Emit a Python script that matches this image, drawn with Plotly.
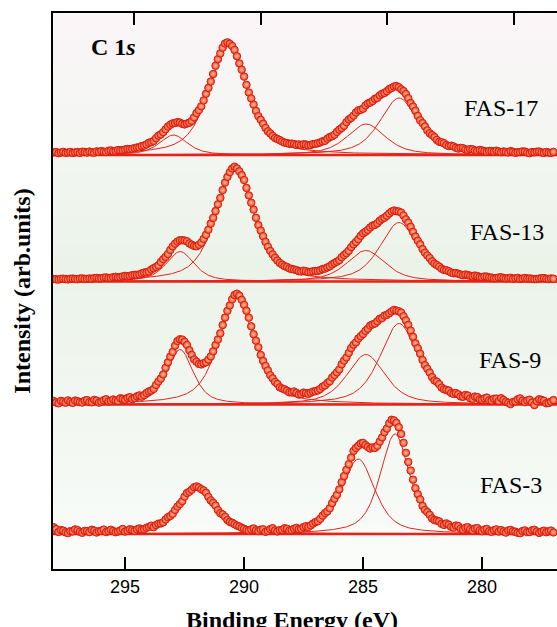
import numpy as np
import plotly.graph_objects as go

# ---------------- data ----------------
# scan grid of the spectra (binding energy, eV), 0.1 eV step from 298.0 down to 277.0
energy = np.round(np.arange(298.0, 276.95, -0.1), 1)

samples = ["FAS-17", "FAS-13", "FAS-9", "FAS-3"]
offsets = [414, 287.5, 164.5, 35]          # vertical stacking offsets (arb. units)

fas17 = [2.6, 2.9, 1.8, 2.4, 3.1, 2.2, 2.4, 3.0, 2.0, 2.6,
         2.9, 2.1, 3.3, 3.0, 2.5, 3.4, 2.7, 2.3, 3.6, 3.1,
         3.9, 3.3, 3.0, 4.2, 4.6, 3.7, 4.1, 4.9, 4.7, 4.8,
         5.5, 6.0, 5.9, 6.2, 6.9, 7.5, 7.6, 8.9, 9.4, 10.6,
         12.2, 12.9, 14.1, 16.8, 19.3, 20.6, 22.8, 25.7, 28.4, 30.3,
         31.6, 32.0, 32.9, 32.4, 31.2, 30.6, 31.4, 32.3, 34.1, 37.6,
         41.9, 44.9, 48.7, 54.6, 61.2, 67.1, 73.5, 81.0, 89.3, 95.8,
         101.6, 107.3, 111.5, 112.6, 111.2, 108.9, 105.1, 98.8, 91.6, 85.3,
         78.4, 70.2, 62.5, 56.6, 50.4, 44.1, 38.8, 35.2, 31.3, 27.1,
         23.7, 21.6, 19.1, 17.0, 16.0, 14.9, 13.5, 12.4, 12.0, 11.2,
         11.4, 10.9, 10.1, 10.6, 9.9, 10.8, 10.4, 9.7, 10.0, 10.9,
         11.2, 11.7, 12.6, 13.7, 14.2, 16.3, 17.9, 18.8, 20.3, 23.1,
         25.3, 27.0, 29.2, 32.8, 35.6, 37.1, 39.4, 42.5, 44.6, 45.2,
         46.3, 49.5, 51.6, 52.4, 54.0, 56.2, 57.1, 59.6, 61.2, 62.1,
         63.8, 65.9, 67.0, 68.4, 68.9, 67.8, 65.7, 63.9, 61.0, 56.8,
         51.9, 48.4, 44.3, 39.1, 34.8, 32.0, 28.6, 24.6, 21.7, 19.9,
         17.9, 15.1, 13.2, 12.7, 11.8, 9.9, 8.9, 9.3, 8.6, 7.2,
         6.4, 7.1, 6.8, 5.6, 5.0, 5.9, 5.7, 4.6, 4.1, 5.0,
         4.6, 3.8, 3.2, 4.0, 3.9, 3.4, 4.3, 3.6, 2.8, 3.5,
         3.1, 2.6, 3.9, 3.2, 2.2, 2.8, 2.9, 3.6, 3.4, 2.5,
         1.8, 2.9, 2.7, 3.3, 3.5, 2.6, 2.2, 3.0, 2.4, 2.1,
         3.1]

fas13 = [2.5, 2.2, 1.9, 2.6, 2.8, 2.4, 2.1, 2.7, 2.9, 2.5,
         2.3, 2.9, 3.1, 2.6, 2.6, 3.0, 2.7, 3.3, 3.6, 3.1,
         3.2, 3.8, 4.1, 3.5, 3.6, 4.3, 4.7, 4.2, 4.4, 5.1,
         5.6, 5.2, 5.5, 6.3, 6.7, 6.6, 7.0, 8.1, 8.9, 9.2,
         10.0, 11.9, 13.3, 14.6, 16.2, 19.5, 22.3, 24.6, 27.5, 31.6,
         35.1, 37.8, 39.9, 41.2, 41.3, 41.0, 40.2, 38.1, 36.8, 35.6,
         35.2, 36.7, 38.9, 42.6, 46.7, 51.8, 57.9, 63.6, 70.4, 77.2,
         83.6, 91.4, 98.9, 104.6, 109.3, 113.0, 114.8, 113.1, 110.2, 106.4,
         101.5, 93.6, 86.1, 78.8, 71.9, 63.7, 56.4, 50.9, 45.3, 39.6,
         34.8, 30.6, 27.1, 23.8, 21.0, 18.6, 16.9, 15.3, 14.6, 13.1,
         12.5, 12.0, 11.4, 10.3, 10.0, 10.8, 10.3, 9.4, 9.6, 10.2,
         10.5, 10.6, 11.3, 12.4, 12.9, 14.1, 15.2, 17.1, 18.6, 19.8,
         21.3, 24.2, 26.5, 28.4, 30.8, 34.3, 37.2, 39.5, 42.3, 45.6,
         48.2, 49.7, 51.6, 54.1, 55.9, 56.6, 58.2, 60.7, 62.6, 63.8,
         65.7, 68.1, 69.9, 71.0, 70.3, 70.0, 68.9, 66.1, 62.2, 58.9,
         54.7, 49.6, 44.9, 40.8, 37.2, 32.4, 28.8, 26.0, 23.5, 20.3,
         17.9, 16.5, 14.9, 12.8, 11.6, 11.2, 10.3, 9.0, 8.2, 8.4,
         7.8, 6.9, 6.4, 7.0, 6.5, 5.7, 5.2, 5.9, 5.4, 4.6,
         4.3, 5.0, 4.9, 4.1, 3.9, 3.2, 3.4, 4.0, 4.2, 3.5,
         3.0, 3.3, 3.7, 2.8, 3.2, 3.6, 2.6, 2.9, 3.5, 3.0,
         3.1, 2.7, 2.3, 2.5, 2.9, 3.3, 3.4, 2.7, 2.5, 3.0,
         2.8]

fas9 = [3.5, 2.0, 1.2, 3.6, 2.9, 1.8, 4.1, 2.7, 1.6, 3.9,
        3.3, 2.4, 2.0, 3.8, 4.4, 2.5, 2.2, 4.6, 3.9, 1.9,
        2.8, 4.2, 5.3, 3.1, 3.6, 5.0, 4.1, 3.5, 6.2, 5.6,
        4.8, 6.5, 7.3, 5.4, 6.5, 8.2, 9.1, 7.8, 9.4, 11.6,
        13.1, 13.9, 15.6, 19.6, 23.0, 25.9, 30.1, 36.7, 42.2, 47.9,
        52.6, 58.8, 63.4, 65.2, 64.9, 62.7, 59.5, 54.2, 49.6, 45.1,
        42.8, 40.6, 40.1, 41.3, 42.2, 44.9, 48.1, 53.2, 59.6, 65.0,
        71.2, 79.5, 86.9, 93.7, 99.1, 105.2, 109.5, 110.8, 108.9, 104.7,
        99.6, 93.8, 86.8, 78.2, 70.3, 63.8, 57.2, 49.6, 43.6, 38.5,
        34.1, 29.3, 26.2, 22.6, 20.5, 17.2, 16.1, 15.2, 13.8, 12.2,
        12.1, 13.0, 11.6, 10.0, 10.3, 11.9, 11.4, 10.6, 11.8, 12.9,
        13.3, 14.1, 15.6, 17.8, 19.1, 21.6, 23.2, 26.9, 29.4, 32.1,
        35.1, 40.2, 43.9, 47.0, 51.6, 56.4, 59.8, 62.1, 65.9, 68.3,
        70.5, 73.6, 75.8, 78.9, 80.1, 81.0, 83.2, 85.7, 86.4, 88.9,
        89.6, 91.3, 93.1, 94.6, 93.9, 93.2, 92.0, 88.3, 84.1, 79.6,
        73.9, 67.7, 61.2, 56.3, 50.8, 44.6, 39.3, 35.8, 32.0, 27.4,
        24.1, 22.8, 20.3, 16.9, 15.2, 14.7, 13.9, 11.5, 10.6, 11.4,
        10.2, 8.1, 7.7, 9.6, 8.9, 6.2, 5.6, 7.9, 7.4, 5.1,
        4.8, 6.1, 6.9, 4.2, 3.8, 5.7, 5.9, 3.4, 6.3, 4.6,
        2.9, 1.7, 0.4, 2.6, 3.1, 5.2, 6.1, 3.9, 2.4, 4.1,
        4.8, 1.9, -0.6, 3.3, 5.2, 4.6, 3.7, 1.2, 1.5, 2.8,
        4.4]

fas3 = [6.8, 4.9, 2.1, 3.9, 3.4, 1.7, 0.9, 2.8, 2.6, 4.6,
        3.8, 2.2, 1.2, 3.1, 2.9, 1.9, 4.3, 3.4, 1.5, 2.7,
        3.1, 4.4, 2.0, 2.9, 4.2, 3.0, 1.8, 2.5, 3.6, 5.0,
        2.4, 3.3, 4.8, 4.0, 3.1, 4.6, 5.6, 4.4, 4.9, 6.2,
        7.1, 8.3, 6.8, 8.9, 10.3, 10.6, 11.7, 14.5, 16.8, 18.1,
        20.2, 24.1, 27.4, 29.9, 32.8, 37.4, 40.9, 42.3, 44.3, 46.8,
        47.6, 46.5, 44.8, 43.6, 41.3, 37.1, 33.6, 31.2, 28.4, 23.9,
        20.8, 19.6, 17.2, 13.9, 12.1, 11.2, 9.8, 8.4, 7.6, 6.2,
        5.2, 4.1, 3.4, 4.6, 5.6, 3.7, 2.9, 4.3, 4.7, 2.2,
        3.1, 4.9, 5.8, 3.6, 2.6, 3.9, 4.2, 5.7, 5.3, 3.4,
        3.9, 5.2, 6.1, 4.8, 5.2, 6.9, 7.8, 7.1, 8.6, 10.4,
        11.9, 12.8, 15.2, 18.4, 20.9, 22.6, 25.7, 30.9, 35.3, 39.1,
        44.6, 51.8, 57.9, 64.2, 69.8, 76.4, 83.1, 86.0, 88.2, 90.6,
        91.1, 88.9, 87.1, 85.4, 86.7, 86.1, 88.2, 92.5, 96.6, 101.8,
        105.4, 110.6, 114.2, 113.6, 111.2, 106.8, 100.1, 91.2, 81.2, 72.0,
        63.5, 54.3, 45.8, 39.7, 34.6, 28.1, 24.1, 21.9, 19.2, 15.6,
        13.9, 13.4, 12.6, 10.2, 9.1, 10.6, 9.3, 7.2, 6.4, 8.5,
        7.9, 5.4, 4.3, 6.2, 6.8, 4.7, 3.5, 5.4, 5.9, 3.6,
        2.8, 4.4, 5.1, 2.9, 2.2, 3.8, 4.6, 2.5, 3.9, 2.6,
        1.4, 3.5, 4.1, 2.7, 2.3, 1.2, 0.8, 2.9, 3.6, 1.9,
        2.0, 3.7, 4.2, 2.5, 1.1, 2.4, 3.3, 1.8, 2.7, 3.4,
        1.6]

# fitted components (pseudo-Voigt): centre (eV), height, FWHM (eV)
centers_17 = [292.97, 290.67, 284.87, 283.49]
heights_17 = [20, 110, 31, 57]
fwhm_17 = [1.4, 1.9, 1.9, 1.9]

centers_13 = [292.69, 290.38, 284.88, 283.49]
heights_13 = [30, 112, 31, 59]
fwhm_13 = [1.4, 1.9, 1.9, 1.9]

centers_9 = [292.69, 290.31, 284.88, 283.49]
heights_9 = [55, 106, 50, 81]
fwhm_9 = [1.3, 1.8, 1.9, 1.9]

centers_3 = [291.99, 285.20, 283.66]
heights_3 = [46, 75, 100]
fwhm_3 = [1.8, 1.64, 1.47]

lorentz_fraction = 0.6

tick_vals = [295, 290, 285, 280]
title_text = "C 1<i>s</i>"
x_title = "Binding Energy (eV)"
y_title = "Intensity (arb.units)"

spectra = [fas17, fas13, fas9, fas3]
fits = [(centers_17, heights_17, fwhm_17),
        (centers_13, heights_13, fwhm_13),
        (centers_9, heights_9, fwhm_9),
        (centers_3, heights_3, fwhm_3)]
assert all(len(s) == len(energy) for s in spectra)


def pseudo_voigt(e, c, h, w, eta):
    d = e - c
    g = np.exp(-4 * np.log(2) * d ** 2 / w ** 2)
    lo = 1.0 / (1.0 + 4 * d ** 2 / w ** 2)
    return h * ((1 - eta) * g + eta * lo)


# ---------------- styling ----------------
RED = "#e8221a"
SERIF = "Liberation Serif, Times New Roman, serif"
SANS = "Liberation Sans, Arial, sans-serif"

X_RANGE = [298.03, 276.85]
X2_RANGE = [298.20, 278.30]
Y_RANGE = [0, 556]

fig = go.Figure()

# background gradient (pinkish top -> light green -> near white bottom)
stops = [(0.0, (251, 245, 248)), (0.22, (244, 246, 242)), (0.45, (235, 243, 233)),
         (0.72, (242, 247, 241)), (1.0, (250, 252, 250))]
n_strips = 60


def col_at(t):
    for (t0, c0), (t1, c1) in zip(stops[:-1], stops[1:]):
        if t0 <= t <= t1:
            f = (t - t0) / (t1 - t0)
            return "rgb(%d,%d,%d)" % tuple(round(a + (b - a) * f) for a, b in zip(c0, c1))
    return "rgb(%d,%d,%d)" % stops[-1][1]


shapes = []
for i in range(n_strips):
    top = 1 - i / n_strips
    bot = 1 - (i + 1) / n_strips
    shapes.append(dict(type="rect", xref="paper", yref="paper", x0=0, x1=1,
                       y0=bot - 0.001, y1=top, fillcolor=col_at((i + 0.5) / n_strips),
                       line=dict(width=0), layer="below"))

fine_e = np.linspace(X_RANGE[0], X_RANGE[1], 900)

for name, off, data, (cs, hs, ws) in zip(samples, offsets, spectra, fits):
    # baseline
    fig.add_trace(go.Scatter(x=[X_RANGE[0], X_RANGE[1]], y=[off, off], mode="lines",
                             line=dict(color=RED, width=2.6), hoverinfo="skip",
                             showlegend=False))
    # fitted components
    for c, h, w in zip(cs, hs, ws):
        fig.add_trace(go.Scatter(x=fine_e, y=off + pseudo_voigt(fine_e, c, h, w, lorentz_fraction),
                                 mode="lines", line=dict(color=RED, width=1),
                                 hoverinfo="skip", showlegend=False))

for name, off, data in zip(samples, offsets, spectra):
    fig.add_trace(go.Scatter(
        x=energy, y=off + np.array(data), mode="markers", name=name,
        marker=dict(size=7.5, color="#ef4526",
                    gradient=dict(type="radial", color="#fbc09a"),
                    line=dict(color="#d81c10", width=1)),
        showlegend=False))

# top axis carrier
fig.add_trace(go.Scatter(x=[], y=[], xaxis="x2", yaxis="y", showlegend=False,
                         hoverinfo="skip"))

annotations = [dict(text="<b>" + title_text + "</b>", x=0.12, y=0.939, xref="paper", yref="paper",
                    xanchor="center", yanchor="middle", showarrow=False,
                    font=dict(family=SERIF, size=24, color="black"))]
label_pos = [(0.889, 0.829), (0.901, 0.606), (0.907, 0.376), (0.909, 0.151)]
for name, (lx, ly) in zip(samples, label_pos):
    annotations.append(dict(text=name, x=lx, y=ly, xref="paper", yref="paper",
                            xanchor="center", yanchor="middle", showarrow=False,
                            font=dict(family=SERIF, size=24, color="black")))
# x-axis title placed as in the original (partly below the page edge)
annotations.append(dict(text="<b>" + x_title + "</b>", x=0.475, y=-0.092, xref="paper",
                        yref="paper", xanchor="center", yanchor="middle", showarrow=False,
                        font=dict(family=SERIF, size=24, color="black")))

fig.update_layout(
    width=557, height=627,
    margin=dict(l=53, r=0, t=13, b=58),
    paper_bgcolor="white", plot_bgcolor="white",
    shapes=shapes, annotations=annotations,
    xaxis=dict(range=X_RANGE, tickvals=tick_vals, ticks="inside", ticklen=12, tickwidth=2,
               tickcolor="black", showline=True, linewidth=2, linecolor="black",
               showgrid=False, zeroline=False,
               tickfont=dict(family=SANS, size=18, color="black")),
    xaxis2=dict(range=X2_RANGE, overlaying="x", side="top", tickvals=tick_vals,
                ticks="inside", ticklen=12, tickwidth=2, tickcolor="black",
                showticklabels=False, showline=True, linewidth=2, linecolor="black",
                showgrid=False, zeroline=False),
    yaxis=dict(range=Y_RANGE, showline=True, linewidth=2, linecolor="black",
               showticklabels=False, ticks="", showgrid=False, zeroline=False,
               title=dict(text="<b>" + y_title + "</b>", standoff=14,
                          font=dict(family=SERIF, size=24, color="black"))),
)

fig.write_html("out.html", config={"displayModeBar": False},
               post_script="document.body.style.margin='0px';")
